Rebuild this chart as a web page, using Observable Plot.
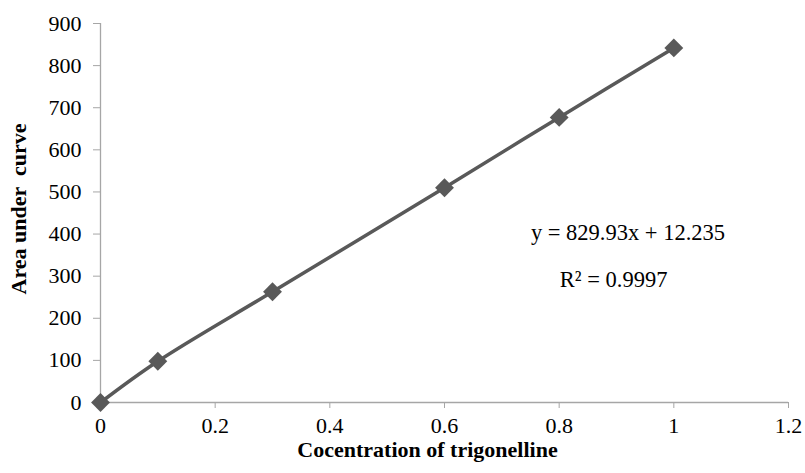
<!DOCTYPE html>
<html>
<head>
<meta charset="utf-8">
<script src="https://cdn.jsdelivr.net/npm/d3@7"></script>
<script src="https://cdn.jsdelivr.net/npm/@observablehq/plot@0.6"></script>
<style>
  html, body { margin: 0; padding: 0; background: #fff; }
  #chart svg { display: block; }
</style>
</head>
<body>
<div id="chart"></div>
<script>
const concentration = [0, 0.1, 0.3, 0.6, 0.8, 1.0];
const area = [0, 98, 263, 510, 677, 842];
const xTicks = [0, 0.2, 0.4, 0.6, 0.8, 1, 1.2];
const yTicks = [0, 100, 200, 300, 400, 500, 600, 700, 800, 900];
const xTitle = "Cocentration of trigonelline";
const yTitle = "Area under  curve";
const noteText = ["y = 829.93x + 12.235", "R² = 0.9997"];
const noteX = [0.92, 0.895];
const noteY = [402, 292];

const data = concentration.map((c, i) => ({x: c, y: area[i]}));
const notes = noteText.map((t, i) => ({text: t, x: noteX[i], y: noteY[i]}));

const font = "'Liberation Serif', 'Times New Roman', Times, serif";
const axisGray = "#a6a6a6";
const lineColor = "#595959";

const chart = Plot.plot({
  width: 805,
  height: 473,
  marginLeft: 100,
  marginRight: 17,
  marginTop: 23,
  marginBottom: 71,
  style: {fontFamily: font, background: "#fff", color: "#000"},
  x: {domain: [0, 1.2], ticks: xTicks},
  y: {domain: [0, 900], ticks: yTicks},
  marks: [
    Plot.ruleX([0], {stroke: axisGray, strokeWidth: 1.3}),
    Plot.ruleY([0], {stroke: axisGray, strokeWidth: 1.3}),
    Plot.axisX({ticks: xTicks, tickSize: 6, tickPadding: 9, stroke: axisGray, fill: "#000", fontSize: 22, tickFormat: d => String(d), label: null}),
    Plot.axisY({ticks: yTicks, tickSize: 7, tickPadding: 12, stroke: axisGray, fill: "#000", fontSize: 22, tickFormat: d => String(d), label: null}),
    Plot.line(data, {x: "x", y: "y", stroke: lineColor, strokeWidth: 3.5, curve: "catmull-rom"}),
    Plot.dot(data, {x: "x", y: "y", symbol: "diamond2", r: 8.5, fill: lineColor, stroke: "none"}),
    Plot.text(notes, {x: "x", y: "y", text: "text", fontSize: 22.5, fill: "#000", textAnchor: "middle"}),
    Plot.text([xTitle], {frameAnchor: "bottom", textAnchor: "middle", lineAnchor: "middle", dy: 47, dx: -17, text: d => d, fontSize: 22, fontWeight: "bold", fill: "#000"}),
    Plot.text([yTitle], {frameAnchor: "left", textAnchor: "middle", lineAnchor: "middle", dx: -82, dy: -4, rotate: -90, text: d => d, fontSize: 22, fontWeight: "bold", fill: "#000"})
  ]
});
document.getElementById("chart").appendChild(chart);
</script>
</body>
</html>
